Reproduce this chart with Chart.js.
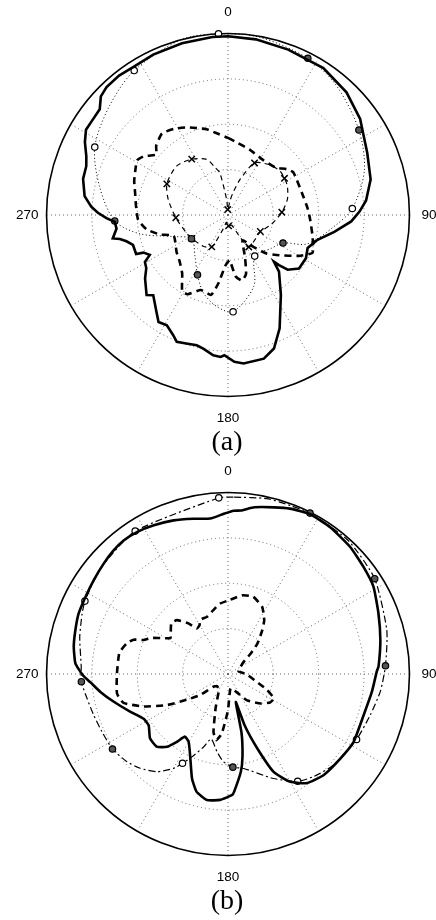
<!DOCTYPE html>
<html>
<head>
<meta charset="utf-8">
<script src="https://cdn.jsdelivr.net/npm/chart.js@4.4.1/dist/chart.umd.min.js"></script>
<style>
  html, body { margin: 0; padding: 0; background: #fff; overflow: hidden; width: 436px; height: 920px; }
  .wrap { position: absolute; left: 0; width: 440px; }
  #wa { top: 0; height: 460px; }
  #wb { top: 459px; height: 460px; }
  canvas { display: block; }
</style>
</head>
<body>
<div class="wrap" id="wa"><canvas id="ca" width="440" height="460"></canvas></div>
<div class="wrap" id="wb"><canvas id="cb" width="440" height="460"></canvas></div>
<script>
// ---------- angular categories (0.5 degree steps, clockwise from top) ----------
const STEPS = 720;
const angleLabels = Array.from({ length: STEPS }, (_, i) => String(i / 2));
const shownAngleLabels = ['0', '90', '180', '270'];
const captions = ['(a)', '(b)'];

// ---------- panel (a) ----------
// solid thick curve
const aSolidAng = [0, 9, 20, 33, 44, 54, 66, 76, 84, 88.5, 93, 99, 105.5, 112.5, 119, 127, 132.5, 134.5, 135.5, 138, 146.5, 155.5, 161, 166, 174, 177.5, 181.5, 183, 186, 190.5, 193.5, 198, 202, 204.5, 209, 213, 216.5, 223, 225.5, 232.5, 237, 240.5, 243, 246, 247, 252.5, 255.5, 257.5, 258.5, 263, 266.5, 268.5, 271, 273.5, 277.5, 284, 289, 292.5, 297, 301, 305.5, 309.5, 313, 316.5, 322, 327, 335, 345, 355];
const aSolidVal = [0.985, 0.98, 0.97, 0.965, 0.94, 0.90, 0.84, 0.81, 0.765, 0.725, 0.68, 0.593, 0.512, 0.475, 0.491, 0.49, 0.446, 0.394, 0.361, 0.42, 0.528, 0.686, 0.778, 0.816, 0.823, 0.81, 0.773, 0.783, 0.777, 0.749, 0.738, 0.744, 0.754, 0.728, 0.695, 0.703, 0.663, 0.604, 0.629, 0.576, 0.537, 0.526, 0.484, 0.51, 0.55, 0.549, 0.578, 0.61, 0.648, 0.619, 0.625, 0.67, 0.717, 0.755, 0.797, 0.823, 0.826, 0.845, 0.885, 0.913, 0.912, 0.916, 0.958, 0.972, 0.975, 0.968, 0.975, 0.98, 0.985];

// dotted curve with circle markers
const aDotAng = [357, 10, 27, 40, 57, 72, 87, 96, 110, 117, 128, 147, 160, 177, 187, 197.5, 207, 218.5, 237, 248.5, 258, 267, 282.5, 297, 312.5, 327, 345];
const aDotVal = [1.0, 0.995, 0.969, 0.93, 0.86, 0.79, 0.686, 0.59, 0.465, 0.34, 0.30, 0.27, 0.417, 0.534, 0.508, 0.45, 0.37, 0.292, 0.24, 0.325, 0.497, 0.625, 0.725, 0.824, 0.887, 0.949, 1.0];
const aDotMarks = [357, 27, 57, 87, 117, 147, 177, 207, 237, 267, 297, 327];

// thick dashed curve
const aDashAng = [0, 8, 18, 32, 45, 52, 57, 73, 85, 93, 104, 114, 120, 128, 135, 142, 150, 158, 163, 168, 173, 178, 183, 188, 192, 200, 207, 211, 218, 226, 234, 249, 254, 260, 267, 276, 284, 290, 298, 301, 305, 310, 314, 321, 328, 335, 346, 351];
const aDashVal = [0.425, 0.40, 0.38, 0.36, 0.37, 0.41, 0.43, 0.425, 0.44, 0.453, 0.48, 0.51, 0.45, 0.36, 0.30, 0.22, 0.16, 0.25, 0.34, 0.37, 0.34, 0.25, 0.28, 0.38, 0.45, 0.44, 0.49, 0.49, 0.41, 0.37, 0.35, 0.32, 0.39, 0.456, 0.496, 0.51, 0.528, 0.55, 0.575, 0.585, 0.565, 0.517, 0.55, 0.578, 0.56, 0.533, 0.487, 0.46];

// thin dashed curve with x markers
const aThinAng = [357, 3, 8, 13, 19, 27, 40, 50, 57, 64, 75, 87, 103, 117, 130, 147, 152, 160, 177, 190, 200, 207, 218.5, 237, 246.5, 267, 284.5, 297, 313.5, 327, 339, 345, 349, 355];
const aThinVal = [0.03, 0.04, 0.08, 0.13, 0.21, 0.322, 0.36, 0.375, 0.371, 0.364, 0.339, 0.297, 0.242, 0.2, 0.2, 0.21, 0.13, 0.06, 0.06, 0.04, 0.09, 0.197, 0.22, 0.237, 0.249, 0.288, 0.34, 0.378, 0.391, 0.367, 0.328, 0.27, 0.237, 0.086];
const aThinMarks = [357, 27, 57, 87, 117, 147, 177, 207, 237, 267, 297, 327];

// ---------- panel (b) ----------
const bSolidAng = [2, 4.5, 9, 15.5, 20.5, 27, 35, 44, 51.5, 59, 68, 77.5, 87, 89, 97, 107, 118.5, 127, 136.5, 144, 150, 155, 158.5, 162, 164.5, 167, 170, 172.5, 177, 178, 183.5, 189.5, 195, 199, 204, 210, 214.5, 217, 220, 224.5, 230.5, 237, 242, 249, 256.5, 262, 266.5, 269.5, 274, 280, 286, 292, 298.5, 305, 311.5, 317, 322, 327.5, 333.5, 340.5, 347.5, 353.5, 358.5];
const bSolidVal = [0.90, 0.904, 0.93, 0.953, 0.973, 0.99, 0.985, 0.971, 0.952, 0.935, 0.894, 0.86, 0.831, 0.82, 0.799, 0.781, 0.787, 0.775, 0.767, 0.743, 0.686, 0.595, 0.441, 0.30, 0.16, 0.33, 0.46, 0.543, 0.649, 0.667, 0.695, 0.704, 0.671, 0.609, 0.51, 0.433, 0.419, 0.468, 0.524, 0.561, 0.557, 0.521, 0.526, 0.578, 0.649, 0.71, 0.759, 0.80, 0.843, 0.863, 0.875, 0.888, 0.893, 0.903, 0.916, 0.928, 0.934, 0.929, 0.916, 0.898, 0.876, 0.862, 0.883];

// dash-dot curve with circle markers
const bDashDotAng = [357, 2, 12.5, 20.5, 27, 42, 57, 74.5, 87, 96.5, 106, 117, 130.5, 140, 147, 156.5, 170.5, 177, 183, 188, 194.5, 198.5, 203.5, 207, 210, 216, 223, 229, 237, 245.5, 253, 260, 267, 273, 284, 292.5, 297, 305, 312, 327];
const bDashDotVal = [0.972, 0.975, 0.99, 0.99, 0.995, 0.99, 0.964, 0.908, 0.869, 0.845, 0.816, 0.795, 0.769, 0.737, 0.705, 0.628, 0.528, 0.514, 0.484, 0.433, 0.37, 0.424, 0.498, 0.552, 0.601, 0.666, 0.71, 0.737, 0.759, 0.764, 0.774, 0.788, 0.809, 0.81, 0.842, 0.87, 0.885, 0.90, 0.915, 0.939];
const bDashDotMarks = [357, 27, 57, 87, 117, 147, 177, 207, 237, 267, 297, 327];

// thick dashed curve
const bDashAng = [2, 10, 18, 27, 34, 38, 44, 48, 52, 60, 75, 90, 103, 112, 118, 124, 132, 144, 155, 170, 180, 186, 190, 194, 200, 210, 222, 229, 233, 238, 243, 249, 254.5, 260, 270, 281, 287, 290, 292, 295, 298, 302, 306, 312, 316.5, 322, 325.5, 329.5, 333, 340, 347, 353.5];
const bDashVal = [0.41, 0.44, 0.448, 0.415, 0.357, 0.307, 0.233, 0.169, 0.111, 0.08, 0.06, 0.1, 0.15, 0.23, 0.287, 0.28, 0.243, 0.18, 0.11, 0.08, 0.2, 0.33, 0.37, 0.33, 0.2, 0.1, 0.09, 0.107, 0.192, 0.268, 0.377, 0.499, 0.597, 0.621, 0.612, 0.61, 0.582, 0.553, 0.50, 0.471, 0.422, 0.374, 0.39, 0.42, 0.409, 0.354, 0.304, 0.31, 0.335, 0.336, 0.361, 0.39];

// ---------- style helpers (kept apart from the data) ----------
const filledMarksA = [27, 57, 117, 207, 237, 267];
const filledMarksB = [27, 57, 87, 177, 237, 267];
const labelPadding = { 0: 13, 180: 12, 360: 14, 540: 8 };

function angIndex(a) { return Math.round((((a % 360) + 360) % 360) * 2) % STEPS; }
function polarSeries(angles, values) {
  const arr = new Array(STEPS).fill(null);
  angles.forEach((a, i) => { arr[angIndex(a)] = values[i]; });
  return arr;
}
function idxSet(angles) { return new Set(angles.map(angIndex)); }

function lineSet(angles, values, style) {
  return Object.assign({
    data: polarSeries(angles, values),
    borderColor: '#000',
    backgroundColor: 'transparent',
    fill: false,
    spanGaps: true,
    pointRadius: 0,
    pointHoverRadius: 0,
    pointHitRadius: 0
  }, style);
}
function markerStyle(marks, filled, shape, size) {
  const m = idxSet(marks), f = idxSet(filled);
  return {
    pointStyle: shape,
    pointRadius: ctx => m.has(ctx.index) ? size : 0,
    pointBorderColor: '#000',
    pointBorderWidth: shape === 'crossRot' ? 1.5 : 1.2,
    pointBackgroundColor: ctx => f.has(ctx.index) ? '#555' : '#fff'
  };
}

function makeOptions(caption) {
  return {
    responsive: false,
    animation: false,
    events: [],
    devicePixelRatio: 1,
    layout: { padding: { left: 15, right: 1, top: 4, bottom: 0 } },
    plugins: {
      legend: { display: false },
      tooltip: { enabled: false },
      title: {
        display: true, position: 'bottom', text: caption, color: '#000',
        font: { family: "'Liberation Serif', 'Times New Roman', serif", size: 28, weight: 'normal', lineHeight: 1 },
        padding: { top: 0.5, bottom: 3.5 }
      }
    },
    elements: { line: { fill: false, tension: 0 } },
    scales: {
      r: {
        min: 0, max: 1,
        ticks: { display: false, stepSize: 0.25 },
        grid: {
          circular: true,
          color: ctx => ctx.index === 4 ? '#000' : '#666',
          lineWidth: ctx => ctx.index === 4 ? 1.6 : 1
        },
        border: { dash: ctx => ctx.index === 4 ? [] : [1, 3] },
        angleLines: {
          display: true, color: '#666', borderDash: [1, 3],
          lineWidth: ctx => ctx.index % 60 === 0 ? 1 : 0
        },
        pointLabels: {
          display: true, color: '#000',
          font: { family: "'Liberation Sans', Arial, sans-serif", size: 13.5 },
          padding: ctx => labelPadding[ctx.index] !== undefined ? labelPadding[ctx.index] : 0,
          callback: (label, index) => shownAngleLabels.includes(label) && index % 180 === 0 ? label : ''
        }
      }
    }
  };
}

new Chart(document.getElementById('ca'), {
  type: 'radar',
  data: {
    labels: angleLabels,
    datasets: [
      lineSet(aSolidAng, aSolidVal, { borderWidth: 2.6, tension: 0 }),
      lineSet(aDotAng, aDotVal, Object.assign({ borderWidth: 1, borderDash: [1, 2.5], tension: 0.3 },
        markerStyle(aDotMarks, filledMarksA, 'circle', 3.2))),
      lineSet(aDashAng, aDashVal, { borderWidth: 2.6, borderDash: [7, 5], tension: 0.15 }),
      lineSet(aThinAng, aThinVal, Object.assign({ borderWidth: 1.2, borderDash: [5, 4], tension: 0.25 },
        markerStyle(aThinMarks, [], 'crossRot', 4.5)))
    ]
  },
  options: makeOptions(captions[0])
});

new Chart(document.getElementById('cb'), {
  type: 'radar',
  data: {
    labels: angleLabels,
    datasets: [
      lineSet(bSolidAng, bSolidVal, { borderWidth: 2.6, tension: 0.15 }),
      lineSet(bDashDotAng, bDashDotVal, Object.assign({ borderWidth: 1.2, borderDash: [7, 3, 2, 3], tension: 0.2 },
        markerStyle(bDashDotMarks, filledMarksB, 'circle', 3.2))),
      lineSet(bDashAng, bDashVal, { borderWidth: 2.6, borderDash: [7, 5], tension: 0.15 })
    ]
  },
  options: makeOptions(captions[1])
});
</script>
</body>
</html>
